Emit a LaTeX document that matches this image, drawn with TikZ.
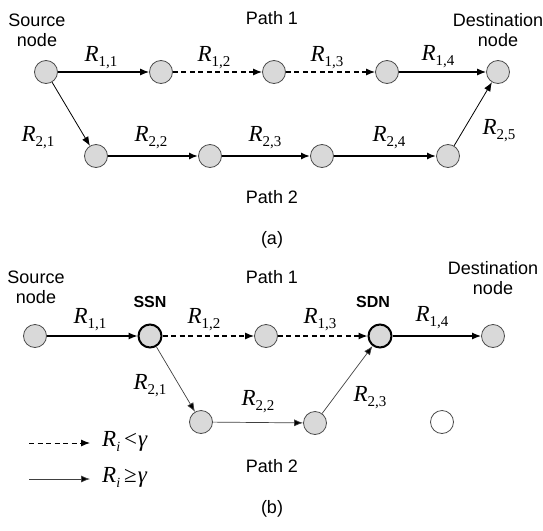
\documentclass[tikz,border=0pt]{standalone}
\usepackage{fontspec}
\setmainfont{Liberation Sans}
\newfontfamily\tms{Liberation Serif}
\usetikzlibrary{arrows.meta}
\newcommand{\Rl}[1]{{\tms\fontsize{23}{23}\selectfont\itshape R}{\tms\fontsize{15}{15}\selectfont\raisebox{-5pt}{#1}}}
\newcommand{\Ri}{{\tms\fontsize{23}{23}\selectfont\itshape R}{\tms\fontsize{14}{14}\selectfont\raisebox{-5pt}{\itshape i}}}
\tikzset{
  nd/.style={circle,draw=black!70,fill=black!15,line width=0.8pt,minimum size=23pt,inner sep=0pt},
  hn/.style={nd,draw=black,line width=2pt},
  wn/.style={nd,fill=white},
  ar/.style={-{Latex[length=9pt,width=7pt]},line width=1.1pt},
  da/.style={ar,line width=1.2pt,dash pattern=on 5pt off 3.5pt},
  tk/.style={ar,line width=2pt},
  tn/.style={ar,line width=0.8pt},
  gr/.style={ar,line width=0.7pt,draw=black!75,-{Latex[length=9pt,width=7pt,fill=black]}},
  lb/.style={inner sep=0pt},
  tx/.style={font=\fontsize{18}{20}\selectfont,align=center,inner sep=0pt},
}
\begin{document}
\begin{tikzpicture}[x=1pt,y=-1pt]
\useasboundingbox (0,0) rectangle (543,530);
% ---------- (a) ----------
\node[nd] (a0) at (46,72) {};
\node[nd] (a1) at (161,72) {};
\node[nd] (a2) at (274,72) {};
\node[nd] (a3) at (387,72) {};
\node[nd] (a4) at (498,72) {};
\node[nd] (b1) at (96,156) {};
\node[nd] (b2) at (210,156) {};
\node[nd] (b3) at (322,156) {};
\node[nd] (b4) at (448,156) {};
\draw[ar] (a0) -- (a1);
\draw[da] (a1) -- (a2);
\draw[da] (a2) -- (a3);
\draw[ar] (a3) -- (a4);
\draw[tn] (a0) -- (b1);
\draw[tk] (b1) -- (b2);
\draw[tk] (b2) -- (b3);
\draw[tk] (b3) -- (b4);
\draw[tn] (b4) -- (a4);
\node[lb] (la1) at (101,58) {\Rl{1,1}};
\node[lb] (la2) at (214,58) {\Rl{1,2}};
\node[lb] (la3) at (327,58) {\Rl{1,3}};
\node[lb] (la4) at (438,57) {\Rl{1,4}};
\node[lb] (lb1) at (38,138) {\Rl{2,1}};
\node[lb] (lb2) at (151,138) {\Rl{2,2}};
\node[lb] (lb3) at (265,138) {\Rl{2,3}};
\node[lb] (lb4) at (389,138) {\Rl{2,4}};
\node[lb] (lb5) at (499,131) {\Rl{2,5}};
\node[tx] (sa) at (37,30) {Source\\node};
\node[tx] (pa1) at (272,18) {Path 1};
\node[tx] (da) at (498,30) {Destination\\node};
\node[tx] (pa2) at (272,197) {Path 2};
\node[tx] (capa) at (272,240) {(a)};
% ---------- (b) ----------
\node[nd] (c0) at (35,336) {};
\node[hn] (c1) at (150,336) {};
\node[nd] (c2) at (266,336) {};
\node[hn] (c3) at (380,336) {};
\node[nd] (c4) at (493,336) {};
\node[nd] (d1) at (201,422) {};
\node[nd] (d2) at (315,423) {};
\node[wn] (d3) at (442,422) {};
\draw[ar] (c0) -- (c1);
\draw[da] (c1) -- (c2);
\draw[da] (c2) -- (c3);
\draw[ar,line width=1.4pt] (c3) -- (c4);
\draw[gr] (c1) -- (d1);
\draw[gr] (d1) -- (d2);
\draw[gr] (d2) -- (c3);
\node[lb] (lc1) at (90,320) {\Rl{1,1}};
\node[lb] (lc2) at (204,320) {\Rl{1,2}};
\node[lb] (lc3) at (320,320) {\Rl{1,3}};
\node[lb] (lc4) at (432,318) {\Rl{1,4}};
\node[lb] (ld1) at (150,386) {\Rl{2,1}};
\node[lb] (ld2) at (258,402) {\Rl{2,2}};
\node[lb] (ld3) at (370,398) {\Rl{2,3}};
\node[tx,font=\fontsize{16}{16}\selectfont\bfseries] (ssn) at (150,302) {SSN};
\node[tx,font=\fontsize{16}{16}\selectfont\bfseries] (sdn) at (373,302) {SDN};
\node[tx] (sb) at (36,287) {Source\\node};
\node[tx] (pb1) at (272,277) {Path 1};
\node[tx] (db) at (493,278) {Destination\\node};
\node[tx] (pb2) at (272,466) {Path 2};
\node[tx] (capb) at (272,509) {(b)};
% legend
\coordinate (l1s) at (29,443);
\coordinate (l1e) at (90,443);
\coordinate (l2s) at (29,479);
\coordinate (l2e) at (90,479);
\draw[da,line width=0.9pt] (l1s) -- (l1e);
\draw[gr] (l2s) -- (l2e);
\node[lb,anchor=west] (lg1) at (102,441) {\Ri\hspace{4pt}{\tms\fontsize{23}{23}\selectfont <\kern1pt\itshape γ}};
\node[lb,anchor=west] (lg2) at (102,477) {\Ri\hspace{4pt}{\tms\fontsize{23}{23}\selectfont ≥\kern1pt\itshape γ}};
\end{tikzpicture}
\end{document}
